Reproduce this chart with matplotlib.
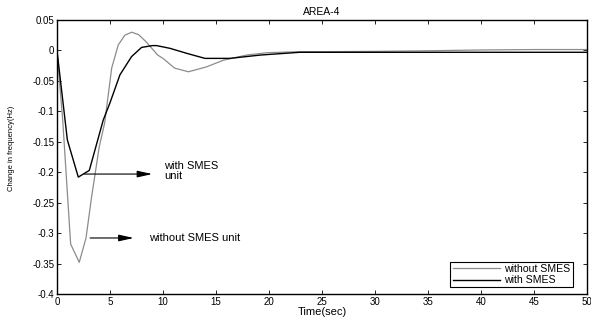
import numpy as np
import matplotlib.pyplot as plt

plt.rcParams['font.family'] = ['Liberation Sans', 'DejaVu Sans']

# without SMES unit (gray)
t_without = [0, 0.54, 1.29, 2.1, 2.74, 3.27, 3.99, 4.5, 5.16, 5.78, 6.4, 7.04, 7.7,
             8.4, 9.5, 10.0, 11.1, 12.4, 14.1, 15.7, 17.9, 19.8, 22.9, 25, 30, 35, 40, 45, 50]
f_without = [0, -0.114, -0.318, -0.348, -0.308, -0.24, -0.158, -0.119, -0.029, 0.009, 0.025, 0.030, 0.026,
             0.0144, -0.0075, -0.013, -0.029, -0.035, -0.027, -0.016, -0.0075, -0.0037, -0.002, -0.002,
             -0.0015, -0.0005, 0.0008, 0.0015, 0.0015]

# with SMES unit (black)
t_with = [0, 0.98, 2.01, 3.05, 4.37, 5.0, 5.94, 7.04, 7.98, 9.0, 9.4, 10.66, 12.3, 13.96, 16.3,
          19.2, 22.9, 25, 30, 35, 40, 45, 50]
f_with = [0, -0.147, -0.208, -0.197, -0.114, -0.086, -0.040, -0.010, 0.005, 0.008, 0.008, 0.0035,
          -0.005, -0.013, -0.013, -0.0075, -0.003, -0.003, -0.003, -0.003, -0.003, -0.003, -0.003]

fig = plt.figure(figsize=(5.91, 3.23), dpi=100)
ax = fig.add_axes([0.0964, 0.0898, 0.8968, 0.8482])

ax.plot(t_without, f_without, color='#8c8c8c', linewidth=0.9, label='without SMES')
ax.plot(t_with, f_with, color='black', linewidth=1.0, label='with SMES')

ax.set_xlim(0, 50)
ax.set_ylim(-0.4, 0.05)
ax.set_xticks(np.arange(0, 51, 5))
ax.set_yticks(np.arange(-0.4, 0.051, 0.05))
ax.set_yticklabels(['-0.4', '-0.35', '-0.3', '-0.25', '-0.2', '-0.15', '-0.1', '-0.05', '0', '0.05'])
ax.tick_params(direction='in', top=True, right=True, length=3, width=0.6, labelsize=7, pad=2)
for s in ax.spines.values():
    s.set_linewidth(1.0)

ax.set_title('AREA-4', fontsize=7.5, pad=3.5)
ax.set_xlabel('Time(sec)', fontsize=8, labelpad=0)
ax.set_ylabel('Change in frequency(Hz)', fontsize=5.5, labelpad=6)
ax.yaxis.set_label_coords(-0.08, 0.53)

arrow = dict(arrowstyle='-|>,head_length=0.9,head_width=0.2', color='black', lw=0.8, mutation_scale=10)
ax.annotate('', xy=(9.25, -0.203), xytext=(2.3, -0.203), arrowprops=arrow)
ax.text(10.1, -0.198, 'with SMES\nunit', fontsize=8, va='center', ha='left', linespacing=0.95)
ax.annotate('', xy=(7.5, -0.308), xytext=(2.86, -0.308), arrowprops=arrow)
ax.text(8.7, -0.308, 'without SMES unit', fontsize=8, va='center', ha='left')

leg = ax.legend(loc='lower right', bbox_to_anchor=(0.969, 0.1105), bbox_transform=fig.transFigure,
                fontsize=7.6, frameon=True, fancybox=False, edgecolor='black', framealpha=1,
                handlelength=4.5, borderpad=0.2, labelspacing=0.1, handletextpad=0.4, borderaxespad=0)
leg.get_frame().set_linewidth(0.8)

fig.savefig('out.png', dpi=100)
